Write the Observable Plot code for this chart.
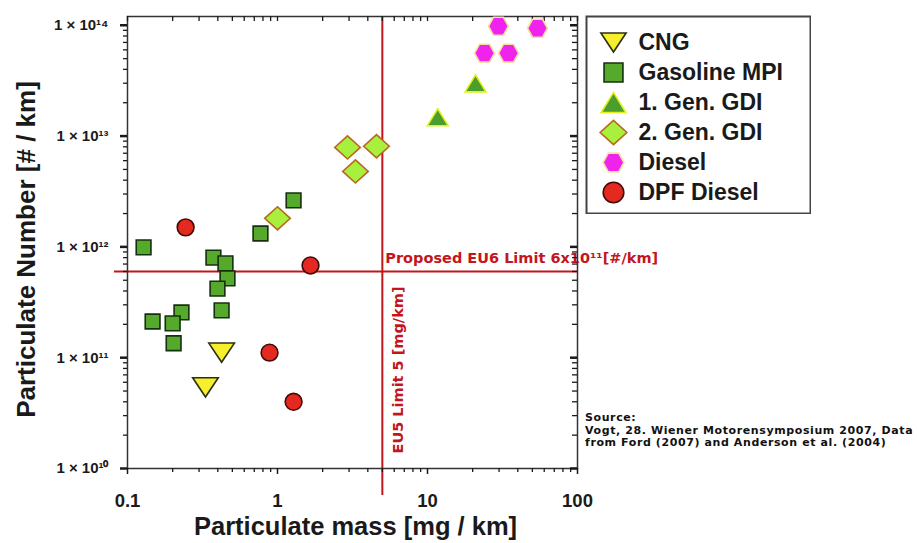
<!DOCTYPE html>
<html><head><meta charset="utf-8">
<script src="https://cdn.jsdelivr.net/npm/d3@7"></script>
<script src="https://cdn.jsdelivr.net/npm/@observablehq/plot@0.6"></script>
<style>
body{margin:0;background:#fff;}
#wrap{position:relative;width:917px;height:543px;overflow:hidden;background:#fff;}
#wrap svg{position:absolute;}
#source{position:absolute;left:585px;top:412px;font:bold 11px "DejaVu Sans",sans-serif;letter-spacing:0.6px;line-height:12.5px;white-space:nowrap;color:#111;}
</style></head><body><div id="wrap"><div id="source">Source:<br>Vogt, 28. Wiener Motorensymposium 2007, Data<br>from Ford (2007) and Anderson et al. (2004)</div></div>
<script>
// ---- data (particulate mass mg/km, particulate number #/km) ----
const categories = ["CNG", "Gasoline MPI", "1. Gen. GDI", "2. Gen. GDI", "Diesel", "DPF Diesel"];
const cng = [[0.424, 1.11e11], [0.331, 5.4e10]];
const gasolineMPI = [[0.128, 9.9e11], [0.374, 8.0e11], [0.450, 7.1e11], [0.464, 5.2e11], [0.398, 4.2e11],
  [0.424, 2.67e11], [0.147, 2.12e11], [0.229, 2.56e11], [0.200, 2.04e11], [0.203, 1.35e11],
  [0.77, 1.32e12], [1.28, 2.63e12]];
const gdi1 = [[11.7, 1.48e13], [20.9, 2.99e13]];
const gdi2 = [[1.0, 1.81e12], [2.93, 7.9e12], [4.57, 8.1e12], [3.31, 4.8e12]];
const diesel = [[29.7, 9.8e13], [54.1, 9.4e13], [24.0, 5.6e13], [34.7, 5.6e13]];
const dpfDiesel = [[0.244, 1.5e12], [1.66, 6.8e11], [0.885, 1.11e11], [1.28, 4.0e10]];

const xTicks = [0.1, 1, 10, 100];
const xTickLabels = ["0.1", "1", "10", "100"];
const yTicks = [1e10, 1e11, 1e12, 1e13, 1e14];
const yTickLabels = ["1 × 10¹⁰", "1 × 10¹¹", "1 × 10¹²", "1 × 10¹³", "1 × 10¹⁴"];

const eu5Limit = 5;       // mg/km
const eu6Limit = 6e11;    // #/km
const eu5Label = "EU5 Limit 5 [mg/km]";
const eu6Label = "Proposed EU6 Limit 6x10¹¹[#/km]";
const xTitle = "Particulate mass [mg / km]";
const yTitle = "Particulate Number [# / km]";

// ---- custom symbols ----
const k = size => Math.sqrt(size / Math.PI);
const symCircle = {draw(c, size) { const s = k(size) * 1.05; c.moveTo(s, 0); c.arc(0, 0, s, 0, 2 * Math.PI); c.closePath(); }};
const symSquare = {draw(c, size) { const s = k(size) * 0.92; c.rect(-s, -s, 2 * s, 2 * s); }};
const symTriUp = {draw(c, size) { const s = k(size), w = 1.3 * s, h = 1.06 * s; c.moveTo(0, -h); c.lineTo(w, h); c.lineTo(-w, h); c.closePath(); }};
const symTriDown = {draw(c, size) { const s = k(size), w = 1.6 * s, h = 1.2 * s; c.moveTo(-w, -h); c.lineTo(w, -h); c.lineTo(0, h); c.closePath(); }};
const symDiamond = {draw(c, size) { const s = k(size), w = 1.6 * s, h = 1.45 * s; c.moveTo(0, -h); c.lineTo(w, 0); c.lineTo(0, h); c.lineTo(-w, 0); c.closePath(); }};
const symHex = {draw(c, size) { const s = k(size), R = 1.25 * s, h = 1.12 * s; c.moveTo(R, 0); c.lineTo(R / 2, h); c.lineTo(-R / 2, h); c.lineTo(-R, 0); c.lineTo(-R / 2, -h); c.lineTo(R / 2, -h); c.closePath(); }};

const series = [
  {name: categories[0], data: cng, symbol: symTriDown, fill: "#f5ef2c", stroke: "#2e2e14", lr: 8.3},
  {name: categories[1], data: gasolineMPI, symbol: symSquare, fill: "#55a92b", stroke: "#14300c", lr: 10.8},
  {name: categories[2], data: gdi1, symbol: symTriUp, fill: "#4c9e2c", stroke: "#dff21e", lr: 10},
  {name: categories[3], data: gdi2, symbol: symDiamond, fill: "#a9f03e", stroke: "#b8691e", lr: 8.8},
  {name: categories[4], data: diesel, symbol: symHex, fill: "#f022ee", stroke: "#f6dfa0", lr: 8.8},
  {name: categories[5], data: dpfDiesel, symbol: symCircle, fill: "#e42a20", stroke: "#430808", lr: 10.3}
];

const W = 917, H = 543, mL = 127, mR = 340, mT = 16, mB = 75;
const innerW = W - mL - mR, innerH = H - mT - mB;
const red = "#c3161c";
const ink = "#1a1a1a";
const xDomain = [0.1, 100], yDomain = [1e10, 1.2e14];
const xMinor = d3.scaleLog().domain(xDomain).ticks().filter(d => !xTicks.includes(d));
const yMinor = d3.scaleLog().domain(yDomain).ticks().filter(d => !yTicks.includes(d) && d <= yDomain[1]);

const main = Plot.plot({
  width: W, height: H,
  marginLeft: mL, marginRight: mR, marginTop: mT, marginBottom: mB,
  style: {fontFamily: "'Liberation Sans', Arial, sans-serif", fontWeight: "bold", color: ink, background: "transparent"},
  x: {type: "log", domain: xDomain},
  y: {type: "log", domain: yDomain},
  marks: [
    // reference lines
    Plot.ruleY([eu6Limit], {y: d => d, stroke: red, strokeWidth: 2, insetLeft: -13}),
    Plot.ruleX([eu5Limit], {x: d => d, stroke: red, strokeWidth: 2, insetBottom: -27}),
    Plot.text([eu6Label], {x: () => eu5Limit, y: () => eu6Limit, text: d => d, textAnchor: "start", lineAnchor: "middle", dx: 3, dy: -13, fill: red, fontSize: 14.5, fontFamily: "'DejaVu Sans', sans-serif", fontWeight: "bold"}),
    Plot.text([eu5Label], {x: () => eu5Limit, y: () => eu6Limit, text: d => d, rotate: -90, textAnchor: "end", lineAnchor: "middle", dx: 16, dy: 15, fill: red, fontSize: 14.5, fontFamily: "'DejaVu Sans', sans-serif", fontWeight: "bold"}),
    // frame and axes
    Plot.frame({stroke: "#333", strokeWidth: 1.5}),
    Plot.axisX(xTicks, {anchor: "bottom", tickSize: 0, tickPadding: 25, tickFormat: d => xTickLabels[xTicks.indexOf(d)], fontSize: 18.5, label: null}),
    Plot.axisX(xTicks, {anchor: "bottom", tickSize: 6, tickFormat: () => "", label: null, strokeWidth: 1.5}),
    Plot.axisX(xMinor, {anchor: "bottom", tickSize: 4, tickFormat: () => "", label: null, strokeWidth: 1.3}),
    Plot.tickX(xTicks.concat(xMinor), {x: d => d, insetBottom: innerH - 5, stroke: ink, strokeWidth: 1.3}),
    Plot.axisY(yTicks, {anchor: "left", tickSize: 7, tickPadding: 12, tickFormat: d => yTickLabels[yTicks.indexOf(d)], fontSize: 15, label: null, strokeWidth: 2.5}),
    Plot.axisY(yMinor, {anchor: "left", tickSize: 4, tickFormat: () => "", label: null, strokeWidth: 1.3}),
    Plot.tickY(yTicks, {y: d => d, insetLeft: innerW - 7, stroke: ink, strokeWidth: 2.5}),
    Plot.tickY(yMinor, {y: d => d, insetLeft: innerW - 5, stroke: ink, strokeWidth: 1.3}),
    // axis titles
    Plot.text([xTitle], {frameAnchor: "bottom", text: d => d, textAnchor: "middle", dx: 3, dy: 58, lineAnchor: "middle", fontSize: 25.5, fill: ink}),
    Plot.text([yTitle], {frameAnchor: "left", text: d => d, textAnchor: "middle", dx: -101, dy: 7, rotate: -90, lineAnchor: "middle", fontSize: 26, fill: ink}),
    // data
    ...series.map(s => Plot.dot(s.data, {x: d => d[0], y: d => d[1], symbol: s.symbol, r: 8, fill: s.fill, stroke: s.stroke, strokeWidth: 1.6}))
  ]
});
main.style.left = "0px";
main.style.top = "0px";
document.getElementById("wrap").appendChild(main);

// ---- legend ----
const legend = Plot.plot({
  width: 226, height: 199, marginTop: 25, marginBottom: 21, marginLeft: 0, marginRight: 0,
  style: {fontFamily: "'Liberation Sans', Arial, sans-serif", fontWeight: "bold", color: ink, background: "transparent"},
  y: {type: "point", domain: categories, padding: 0, axis: null},
  x: {axis: null},
  marks: [
    Plot.frame({stroke: "#444", strokeWidth: 2, insetTop: -24, insetBottom: -20, insetLeft: 1, insetRight: 1}),
    ...series.map(s => Plot.dot([s.name], {y: d => d, frameAnchor: "left", dx: 28, symbol: s.symbol, r: s.lr * 0.95, fill: s.fill, stroke: s.stroke, strokeWidth: 1.6})),
    Plot.text(categories, {y: d => d, frameAnchor: "left", dx: 53, text: d => d, textAnchor: "start", lineAnchor: "middle", fontSize: 23, fill: ink})
  ]
});
legend.style.left = "585px";
legend.style.top = "15px";
document.getElementById("wrap").appendChild(legend);
</script>
</body></html>
